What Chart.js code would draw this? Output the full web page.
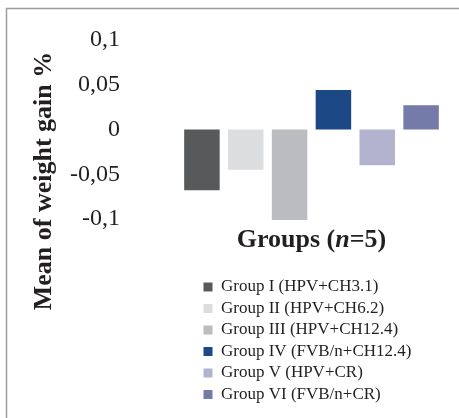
<!DOCTYPE html>
<html>
<head>
<meta charset="utf-8">
<title>Mean of weight gain</title>
<script src="https://cdn.jsdelivr.net/npm/chart.js"></script>
<style>
    html, body { margin: 0; padding: 0; background: #ffffff; }
    #wrap { position: relative; width: 459px; height: 418px; }
</style>
</head>
<body>
<div id="wrap"><canvas id="weightChart"></canvas></div>
<script>
const groups = [
    "Group I (HPV+CH3.1)",
    "Group II (HPV+CH6.2)",
    "Group III (HPV+CH12.4)",
    "Group IV (FVB/n+CH12.4)",
    "Group V (HPV+CR)",
    "Group VI (FVB/n+CR)"
];
const weightGain = [-0.068, -0.045, -0.101, 0.044, -0.040, 0.027];
const yTicks = [-0.1, -0.05, 0, 0.05, 0.1];
const groupColors = ["#58595b", "#dcdddf", "#bbbcbf", "#1d4886", "#b1b3cf", "#747ba9"];

const textColor = "#231f20";
const serif = "'Liberation Serif', 'Times New Roman', serif";

// frame, axis titles and legend offset, drawn round the chart area
const extrasPlugin = {
    id: "extras",
    afterLayout: function (chart) {
        const shift = 19;
        chart.legend.left = chart.chartArea.left + shift;
        chart.legend.right = chart.legend.left + chart.chartArea.width;
    },
    beforeDraw: function (chart) {
        const ctx = chart.ctx;
        ctx.save();
        ctx.strokeStyle = "#9d9d9d";
        ctx.lineWidth = 1.5;
        ctx.beginPath();
        ctx.moveTo(6.5, chart.height);
        ctx.lineTo(6.5, 8.5);
        ctx.lineTo(chart.width, 8.5);
        ctx.stroke();
        ctx.restore();
    },
    afterDraw: function (chart) {
        const ctx = chart.ctx;
        const area = chart.chartArea;
        ctx.save();
        ctx.fillStyle = textColor;
        ctx.textBaseline = "middle";

        // y title
        ctx.save();
        ctx.font = "bold 26px " + serif;
        ctx.textAlign = "center";
        ctx.translate(44, 181);
        ctx.rotate(-Math.PI / 2);
        ctx.fillText("Mean of weight gain %", 0, 0);
        ctx.restore();

        // x title with italic n
        const parts = [
            { text: "Groups (", font: "bold 26px " + serif },
            { text: "n", font: "italic bold 26px " + serif },
            { text: "=5)", font: "bold 26px " + serif }
        ];
        let total = 0;
        parts.forEach(function (p) {
            ctx.font = p.font;
            p.width = ctx.measureText(p.text).width;
            total += p.width;
        });
        let x = (area.left + area.right) / 2 - total / 2;
        const y = area.bottom + 21;
        ctx.textAlign = "left";
        parts.forEach(function (p) {
            ctx.font = p.font;
            ctx.fillText(p.text, x, y);
            x += p.width;
        });
        ctx.restore();
    }
};

const ctx = document.getElementById("weightChart").getContext("2d");
new Chart(ctx, {
    type: "bar",
    data: {
        labels: groups,
        datasets: [
            {
                label: "Mean of weight gain %",
                data: weightGain,
                backgroundColor: groupColors,
                borderWidth: 0,
                barPercentage: 0.9,
                categoryPercentage: 0.9,
                clip: false
            }
        ]
    },
    options: {
        responsive: true,
        maintainAspectRatio: false,
        animation: false,
        layout: {
            padding: { left: 70, right: 16, top: 40, bottom: 5 }
        },
        scales: {
            x: {
                grid: { display: false, drawTicks: false },
                border: { display: false },
                ticks: { display: false },
                afterFit: function (scale) {
                    scale.height = 55;
                }
            },
            y: {
                min: -0.1,
                max: 0.1,
                grid: { display: false, drawTicks: false },
                border: { display: false },
                afterBuildTicks: function (scale) {
                    scale.ticks = yTicks.map(function (v) { return { value: v }; });
                },
                afterFit: function (scale) {
                    // wide gap between labels and bars, without the extra top/bottom room
                    scale.width = 110;
                    scale.paddingTop = 14;
                    scale.paddingBottom = 14;
                },
                ticks: {
                    padding: 60,
                    color: textColor,
                    font: { family: serif, size: 24 },
                    callback: function (value) {
                        return String(value).replace(".", ",");
                    }
                }
            }
        },
        plugins: {
            tooltip: { enabled: false },
            legend: {
                position: "bottom",
                align: "start",
                fullSize: false,
                labels: {
                    boxWidth: 9,
                    boxHeight: 9,
                    padding: 4.5,
                    color: textColor,
                    font: { family: serif, size: 17 },
                    generateLabels: function (chart) {
                        return groups.map(function (name, i) {
                            return {
                                text: name,
                                fillStyle: groupColors[i],
                                strokeStyle: groupColors[i],
                                lineWidth: 0,
                                fontColor: textColor,
                                hidden: false,
                                index: i
                            };
                        });
                    }
                }
            }
        }
    },
    plugins: [extrasPlugin]
});
</script>
</body>
</html>
